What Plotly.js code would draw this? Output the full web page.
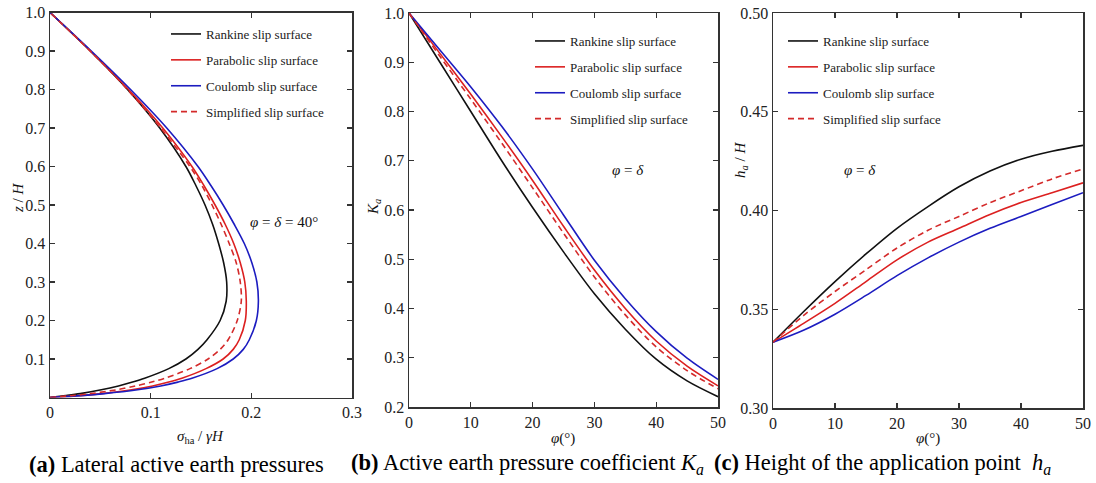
<!DOCTYPE html>
<html><head><meta charset="utf-8">
<script src="https://cdn.plot.ly/plotly-3.0.1.min.js"></script>
<style>html,body{margin:0;padding:0;background:#fff}#chart{width:1096px;height:483px}</style>
</head><body><div id="chart"></div>
<script>
const seriesNames = ["Rankine slip surface", "Parabolic slip surface", "Coulomb slip surface", "Simplified slip surface"];

// (a) Lateral active earth pressures, phi = delta = 40 deg
const zH = [0, 0.005, 0.01, 0.02, 0.03, 0.04, 0.05, 0.075, 0.1, 0.125, 0.15, 0.2, 0.25, 0.3, 0.35, 0.4, 0.45, 0.5, 0.55, 0.6, 0.7, 0.8, 0.9, 1.0];
const sigmaRankine    = [0, 0.016, 0.030, 0.051, 0.068, 0.082, 0.094, 0.118, 0.135, 0.147, 0.156, 0.169, 0.175, 0.1755, 0.1725, 0.1675, 0.1615, 0.154, 0.145, 0.135, 0.109, 0.077, 0.040, 0];
const sigmaParabolic  = [0, 0.029, 0.051, 0.081, 0.102, 0.118, 0.131, 0.155, 0.172, 0.182, 0.188, 0.194, 0.195, 0.1935, 0.189, 0.1825, 0.174, 0.164, 0.153, 0.141, 0.112, 0.078, 0.040, 0];
const sigmaCoulomb    = [0, 0.031, 0.054, 0.087, 0.110, 0.127, 0.141, 0.166, 0.182, 0.192, 0.198, 0.205, 0.207, 0.2055, 0.2005, 0.193, 0.183, 0.172, 0.160, 0.147, 0.116, 0.080, 0.041, 0];
const sigmaSimplified = [0, 0.022, 0.040, 0.066, 0.085, 0.101, 0.114, 0.139, 0.157, 0.169, 0.177, 0.186, 0.190, 0.189, 0.185, 0.178, 0.170, 0.161, 0.151, 0.139, 0.110, 0.077, 0.040, 0];

// (b) Active earth pressure coefficient Ka
const phi = [0, 5, 10, 15, 20, 25, 30, 35, 40, 45, 50];
const KRankine    = [1.0, 0.900, 0.800, 0.700, 0.605, 0.515, 0.430, 0.358, 0.297, 0.253, 0.221];
const KParabolic  = [1.0, 0.918, 0.835, 0.749, 0.660, 0.567, 0.478, 0.400, 0.334, 0.283, 0.243];
const KCoulomb    = [1.0, 0.925, 0.850, 0.770, 0.683, 0.590, 0.498, 0.420, 0.353, 0.299, 0.256];
const KSimplified = [1.0, 0.912, 0.825, 0.736, 0.645, 0.553, 0.464, 0.387, 0.322, 0.274, 0.237];

// (c) Height of the application point ha
const hRankine    = [0.3333, 0.349, 0.364, 0.378, 0.391, 0.402, 0.412, 0.420, 0.426, 0.430, 0.433];
const hParabolic  = [0.3333, 0.343, 0.353, 0.364, 0.375, 0.384, 0.391, 0.398, 0.404, 0.409, 0.414];
const hCoulomb    = [0.3333, 0.3395, 0.3475, 0.357, 0.367, 0.376, 0.384, 0.391, 0.397, 0.403, 0.409];
const hSimplified = [0.3333, 0.347, 0.359, 0.370, 0.381, 0.390, 0.397, 0.404, 0.410, 0.416, 0.421];

const tickA_y = [0.1, 0.2, 0.3, 0.4, 0.5, 0.6, 0.7, 0.8, 0.9, 1.0];
const tickA_x = [0, 0.1, 0.2, 0.3];
const tickB_y = [0.2, 0.3, 0.4, 0.5, 0.6, 0.7, 0.8, 0.9, 1.0];
const tickC_y = [0.30, 0.35, 0.40, 0.45, 0.50];
const tickPhi = [0, 10, 20, 30, 40, 50];

const W = 1096, H = 483;
const colors = ["#111111", "#dc2020", "#1c1cc0", "#d42a2a"];
const dashes = ["solid", "solid", "solid", "6px,4px"];
const serif = "Times New Roman, Liberation Serif, serif";

function mk(xs, ys, i, xa, ya, leg) {
  return {
    x: xs, y: ys, type: "scatter", mode: "lines", name: seriesNames[i],
    xaxis: xa, yaxis: ya, legend: leg, legendgroup: leg + i,
    line: {color: colors[i], width: 1.6, dash: dashes[i], shape: "spline", smoothing: 0.9},
    hoverinfo: "skip"
  };
}
const aS = [sigmaRankine, sigmaParabolic, sigmaCoulomb, sigmaSimplified];
const bS = [KRankine, KParabolic, KCoulomb, KSimplified];
const cS = [hRankine, hParabolic, hCoulomb, hSimplified];
const traces = [];
for (let i = 0; i < 4; i++) traces.push(mk(aS[i], zH, i, "x", "y", "legend"));
for (let i = 0; i < 4; i++) traces.push(mk(phi, bS[i], i, "x2", "y2", "legend2"));
for (let i = 0; i < 4; i++) traces.push(mk(phi, cS[i], i, "x3", "y3", "legend3"));

function ax(extra) {
  return Object.assign({
    showline: true, linecolor: "#333", linewidth: 1.5, mirror: "ticks",
    ticks: "inside", ticklen: 5, tickwidth: 1.2, tickcolor: "#333",
    showgrid: false, zeroline: false, fixedrange: true,
    tickfont: {family: serif, size: 16, color: "#222"}
  }, extra);
}
const px = v => v / W, py = v => 1 - v / H;

function legend(xl, ytop) {
  return {x: px(xl), y: py(ytop), xanchor: "left", yanchor: "top",
    bgcolor: "rgba(0,0,0,0)", borderwidth: 0, tracegroupgap: 6, traceorder: "grouped",
    font: {family: serif, size: 13, color: "#222"}, itemclick: false};
}

function txt(x, y, t, size, extra) {
  return Object.assign({xref: "paper", yref: "paper", x: px(x), y: py(y), text: t, showarrow: false,
    font: {family: serif, size: size, color: "#111"}, xanchor: "center", yanchor: "middle"}, extra || {});
}
const capFont = {family: serif, size: 22.5, color: "#000"};

const layout = {
  width: W, height: H, margin: {l: 0, r: 0, t: 0, b: 0},
  paper_bgcolor: "#fff", plot_bgcolor: "#fff", showlegend: true,
  font: {family: serif},
  xaxis: ax({domain: [px(50), px(352)], range: [0, 0.3], tickvals: tickA_x, ticktext: ["0", "0.1", "0.2", "0.3"], anchor: "y"}),
  yaxis: ax({domain: [py(397.5), py(12.5)], range: [0, 1], tickvals: tickA_y, ticktext: tickA_y.map(v => v.toFixed(1)), anchor: "x"}),
  xaxis2: ax({domain: [px(409), px(718)], range: [0, 50], tickvals: tickPhi, anchor: "y2"}),
  yaxis2: ax({domain: [py(407), py(13)], range: [0.2, 1.0], tickvals: tickB_y, ticktext: tickB_y.map(v => v.toFixed(1)), anchor: "x2"}),
  xaxis3: ax({domain: [px(773), px(1083)], range: [0, 50], tickvals: tickPhi, anchor: "y3"}),
  yaxis3: ax({domain: [py(408), py(13)], range: [0.30, 0.50], tickvals: tickC_y, ticktext: tickC_y.map(v => v.toFixed(2)), anchor: "x3"}),
  legend: legend(166, 19),
  legend2: legend(530, 26),
  legend3: legend(783, 26),
  annotations: [
    txt(18, 198, "<i>z</i> / <i>H</i>", 15, {textangle: -90}),
    txt(200, 437, "<i>σ</i><sub>ha</sub> / <i>γH</i>", 15),
    txt(374, 207, "<i>K<sub>a</sub></i>", 15, {textangle: -90}),
    txt(563, 438, "<i>φ</i>(°)", 15),
    txt(741, 160, "<i>h<sub>a</sub></i> / <i>H</i>", 15, {textangle: -90}),
    txt(928, 438, "<i>φ</i>(°)", 15),
    txt(284, 222, "<i>φ</i> = <i>δ</i> = 40°", 15),
    txt(628, 170, "<i>φ</i> = <i>δ</i>", 15),
    txt(860, 170, "<i>φ</i> = <i>δ</i>", 15),
    txt(27, 464, "<b>(a)</b> Lateral active earth pressures", 22.5, {xanchor: "left", font: capFont}),
    txt(349, 464, "<b>(b)</b> Active earth pressure coefficient <i>K<sub>a</sub></i>", 22.5, {xanchor: "left", font: capFont}),
    txt(712, 464, "<b>(c)</b> Height of the application point  <i>h<sub>a</sub></i>", 22.5, {xanchor: "left", font: capFont})
  ]
};
Plotly.newPlot("chart", traces, layout, {staticPlot: true, displayModeBar: false});
</script></body></html>
